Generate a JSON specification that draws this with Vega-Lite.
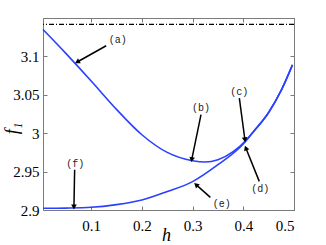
{
  "$schema": "https://vega.github.io/schema/vega-lite/v6.json",
  "width": 251,
  "height": 192,
  "autosize": {"type": "none"},
  "padding": {"left": 43, "top": 18, "right": 32, "bottom": 35},
  "background": "white",
  "config": {
    "view": {"stroke": "#7a7a7a", "strokeWidth": 1},
    "axis": {
      "domainColor": "#7a7a7a",
      "tickColor": "#7a7a7a",
      "tickSize": -4,
      "grid": false,
      "labelFont": "Liberation Serif",
      "labelFontSize": 15,
      "labelColor": "#000000",
      "titleFont": "Liberation Serif",
      "titleFontStyle": "italic",
      "titleFontWeight": "normal",
      "titleFontSize": 18,
      "titleColor": "#000000"
    }
  },
  "datasets": {
    "curves": [
      {"h": 0.005, "f": 3.135, "branch": "upper"},
      {"h": 0.05, "f": 3.104, "branch": "upper"},
      {"h": 0.1, "f": 3.068, "branch": "upper"},
      {"h": 0.15, "f": 3.031, "branch": "upper"},
      {"h": 0.2, "f": 2.998, "branch": "upper"},
      {"h": 0.25, "f": 2.975, "branch": "upper"},
      {"h": 0.3, "f": 2.9642, "branch": "upper"},
      {"h": 0.325, "f": 2.9625, "branch": "upper"},
      {"h": 0.35, "f": 2.9655, "branch": "upper"},
      {"h": 0.38, "f": 2.976, "branch": "upper"},
      {"h": 0.405, "f": 2.9905, "branch": "upper"},
      {"h": 0.42, "f": 3.002, "branch": "upper"},
      {"h": 0.45, "f": 3.027, "branch": "upper"},
      {"h": 0.475, "f": 3.056, "branch": "upper"},
      {"h": 0.497, "f": 3.089, "branch": "upper"},
      {"h": 0.005, "f": 2.9022, "branch": "lower"},
      {"h": 0.05, "f": 2.9025, "branch": "lower"},
      {"h": 0.1, "f": 2.9035, "branch": "lower"},
      {"h": 0.15, "f": 2.907, "branch": "lower"},
      {"h": 0.2, "f": 2.913, "branch": "lower"},
      {"h": 0.25, "f": 2.924, "branch": "lower"},
      {"h": 0.3, "f": 2.937, "branch": "lower"},
      {"h": 0.35, "f": 2.959, "branch": "lower"},
      {"h": 0.4, "f": 2.986, "branch": "lower"},
      {"h": 0.42, "f": 3.002, "branch": "lower"},
      {"h": 0.45, "f": 3.027, "branch": "lower"},
      {"h": 0.475, "f": 3.056, "branch": "lower"},
      {"h": 0.497, "f": 3.089, "branch": "lower"}
    ],
    "notes": [
      {"label": "(a)", "lx": 0.1526, "ly": 3.1217, "tx": 0.1296, "ty": 3.1139, "hx": 0.0725, "hy": 3.0927, "dir": 240.7},
      {"label": "(b)", "lx": 0.3166, "ly": 3.0328, "tx": 0.3166, "ty": 3.0241, "hx": 0.2983, "hy": 2.9655, "dir": 191.7},
      {"label": "(c)", "lx": 0.3922, "ly": 3.0536, "tx": 0.3922, "ty": 3.0458, "hx": 0.4032, "hy": 2.9915, "dir": 172.4},
      {"label": "(d)", "lx": 0.4335, "ly": 2.9277, "tx": 0.4315, "ty": 2.9373, "hx": 0.405, "hy": 2.9807, "dir": 338.1},
      {"label": "(e)", "lx": 0.3574, "ly": 2.9078, "tx": 0.335, "ty": 2.9165, "hx": 0.3068, "hy": 2.933, "dir": 311.2},
      {"label": "(f)", "lx": 0.0686, "ly": 2.9603, "tx": 0.0674, "ty": 2.9525, "hx": 0.066, "hy": 2.9039, "dir": 181}
    ],
    "ref": [{"name": "pi", "f": 3.14159}]
  },
  "resolve": {"axis": {"x": "independent", "y": "independent"}},
  "layer": [
    {
      "data": {"name": "ref"},
      "mark": {"type": "rule", "color": "#000000", "strokeWidth": 1.2, "strokeDash": [5, 2, 1, 2]},
      "encoding": {
        "y": {"field": "f", "type": "quantitative", "axis": null,
              "scale": {"domain": [2.9, 3.15], "nice": false, "zero": false}}
      }
    },
    {
      "data": {"name": "curves"},
      "mark": {"type": "line", "color": "#2a40ff", "strokeWidth": 1.6, "interpolate": "monotone"},
      "encoding": {
        "x": {"field": "h", "type": "quantitative",
              "scale": {"domain": [0.005, 0.5], "nice": false, "zero": false},
              "axis": {"orient": "bottom", "values": [0.1, 0.2, 0.3, 0.4, 0.5], "format": ".1f",
                       "labelPadding": 12, "title": "h", "titleX": 123, "titleY": 30,
                       "titleBaseline": "alphabetic", "titleAlign": "center"}},
        "y": {"field": "f", "type": "quantitative",
              "scale": {"domain": [2.9, 3.15], "nice": false, "zero": false},
              "axis": {"orient": "left", "values": [2.9, 2.95, 3, 3.05, 3.1], "format": "~g",
                       "labelPadding": 8, "title": "f₁", "titleX": -31, "titleY": 110,
                       "titleAngle": 270, "titleBaseline": "middle", "titleAlign": "center"}},
        "detail": {"field": "branch"}
      }
    },
    {
      "data": {"name": "notes"},
      "mark": {"type": "rule", "color": "#000000", "strokeWidth": 1.5},
      "encoding": {
        "x": {"field": "tx", "type": "quantitative", "axis": null},
        "y": {"field": "ty", "type": "quantitative", "axis": null},
        "x2": {"field": "hx"},
        "y2": {"field": "hy"}
      }
    },
    {
      "data": {"name": "notes"},
      "mark": {"type": "point", "shape": "triangle-up", "filled": true, "color": "#000000", "size": 32, "opacity": 1},
      "encoding": {
        "x": {"field": "hx", "type": "quantitative", "axis": null},
        "y": {"field": "hy", "type": "quantitative", "axis": null},
        "angle": {"field": "dir", "type": "quantitative", "scale": null}
      }
    },
    {
      "data": {"name": "notes"},
      "mark": {"type": "text", "font": "Liberation Mono", "fontSize": 10, "color": "#222222", "align": "center", "baseline": "middle"},
      "encoding": {
        "x": {"field": "lx", "type": "quantitative",
              "axis": {"orient": "top", "values": [0.1, 0.2, 0.3, 0.4, 0.5], "labels": false, "title": null}},
        "y": {"field": "ly", "type": "quantitative",
              "axis": {"orient": "right", "values": [2.9, 2.95, 3, 3.05, 3.1], "labels": false, "title": null}},
        "text": {"field": "label"}
      }
    }
  ]
}
